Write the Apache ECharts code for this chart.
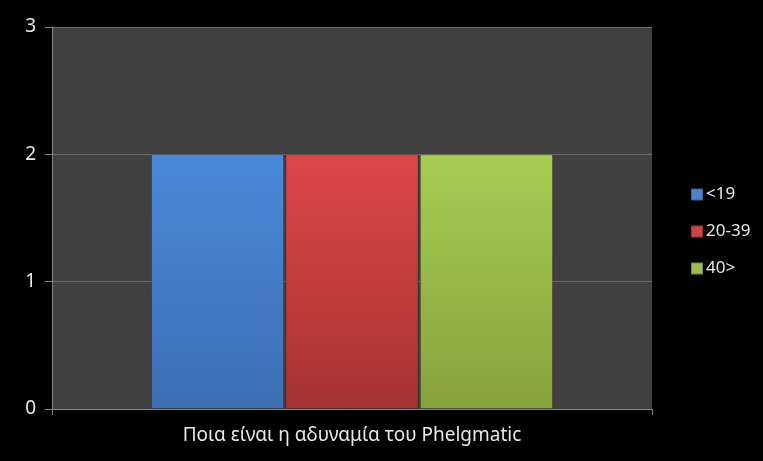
<!DOCTYPE html>
<html>
<head>
<meta charset="utf-8">
<script src="https://cdn.jsdelivr.net/npm/echarts@6/dist/echarts.min.js"></script>
<style>
  html, body { margin: 0; padding: 0; background: #000; }
  #chart { width: 763px; height: 461px; }
</style>
</head>
<body>
<div id="chart"></div>
<script>
// categories / series
var categories = ['Ποια είναι η αδυναμία του Phelgmatic'];
var seriesNames = ['<19', '20-39', '40>'];
var valuesYoung = [2];
var valuesMid = [2];
var valuesOld = [2];
var yTicks = [0, 1, 2, 3];

// colours per series: top / bottom of the gradient
var colors = [
    ['#4a8ad9', '#3d6fb3'],
    ['#de4848', '#a63333'],
    ['#a6cd52', '#86a23d']
];
var legendColors = ['#4a84cc', '#cc4444', '#9bbb4f'];

function grad(c) {
    return new echarts.graphic.LinearGradient(0, 0, 0, 1, [
        { offset: 0, color: c[0] },
        { offset: 1, color: c[1] }
    ]);
}

var chart = echarts.init(document.getElementById('chart'));

var data = [valuesYoung, valuesMid, valuesOld];
var series = data.map(function (vals, i) {
    return {
        name: seriesNames[i],
        type: 'bar',
        data: vals,
        barGap: '1%',
        barCategoryGap: '33%',
        itemStyle: {
            color: grad(colors[i]),
            borderColor: 'rgba(0,0,0,0.25)',
            borderWidth: 1
        }
    };
});

chart.setOption({
    backgroundColor: '#000',
    animation: false,
    textStyle: { fontFamily: 'Noto Sans' },
    legend: {
        orient: 'vertical',
        left: 685,
        top: 181,
        itemGap: 20,
        itemWidth: 12,
        itemHeight: 12,
        icon: 'rect',
        textStyle: { color: '#e8e8e8', fontSize: 17, fontFamily: 'Noto Sans', padding: [0, 0, 0, -2] },
        data: seriesNames.map(function (n, i) {
            return { name: n, itemStyle: { color: legendColors[i] } };
        })
    },
    grid: {
        left: 52,
        right: 111,
        top: 27,
        bottom: 52,
        show: true,
        backgroundColor: '#404040',
        borderWidth: 0
    },
    xAxis: {
        type: 'category',
        data: categories,
        axisLine: { lineStyle: { color: '#868686', width: 1 } },
        axisTick: { show: true, length: 6, lineStyle: { color: '#868686' } },
        axisLabel: { color: '#e8e8e8', fontSize: 19, margin: 17 }
    },
    yAxis: {
        type: 'value',
        min: yTicks[0],
        max: yTicks[yTicks.length - 1],
        interval: 1,
        axisLine: { show: true, lineStyle: { color: '#868686', width: 1 } },
        axisTick: { show: true, length: 7, lineStyle: { color: '#868686' } },
        axisLabel: { color: '#e8e8e8', fontSize: 19, margin: 16 },
        splitLine: { show: true, lineStyle: { color: '#6a6a6a', width: 1 } }
    },
    series: series
});
</script>
</body>
</html>
